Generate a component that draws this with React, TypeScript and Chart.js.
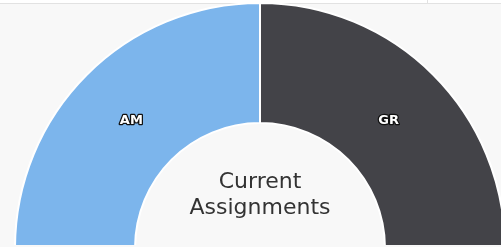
import React, { useEffect, useRef } from "react";
import { Chart, registerables } from "chart.js";

Chart.register(...registerables);

const categories = ["AM", "GR"];
const values = [1, 1];
const colors = ["#7cb5ec", "#434348"];
const centerLines = ["Current", "Assignments"];

const BG = "#f8f8f8";

const bgPlugin = {
  id: "bgPlugin",
  beforeDraw(chart: any) {
    const { ctx, width, height } = chart;
    ctx.save();
    ctx.fillStyle = BG;
    ctx.fillRect(0, 0, width, height);
    ctx.fillStyle = "#ffffff";
    ctx.fillRect(0, 0, width, 3);
    ctx.fillStyle = "#e2e2e2";
    ctx.fillRect(0, 3, width, 1);
    ctx.fillRect(427, 0, 1, 3);
    ctx.restore();
  },
};

const labelPlugin = {
  id: "labelPlugin",
  afterDatasetsDraw(chart: any) {
    const { ctx, width } = chart;
    const meta = chart.getDatasetMeta(0);
    ctx.save();
    // clip bottom strip
    ctx.fillStyle = BG;
    ctx.fillRect(0, 245, width, 5);
    ctx.font = "bold 13px 'DejaVu Sans', sans-serif";
    ctx.textAlign = "center";
    ctx.textBaseline = "middle";
    ctx.lineJoin = "round";
    meta.data.forEach((arc: any, i: number) => {
      const mid = (arc.startAngle + arc.endAngle) / 2;
      const r = (arc.innerRadius + arc.outerRadius) / 2 - 3;
      const x = arc.x + Math.cos(mid) * r;
      const y = arc.y + Math.sin(mid) * r + 1;
      ctx.lineWidth = 2.5;
      ctx.strokeStyle = "#111111";
      ctx.strokeText(categories[i], x, y);
      ctx.fillStyle = "#ffffff";
      ctx.fillText(categories[i], x, y);
    });
    const cx = meta.data[0].x;
    ctx.font = "22px 'DejaVu Sans', sans-serif";
    ctx.fillStyle = "#333333";
    ctx.textBaseline = "alphabetic";
    ctx.fillText(centerLines[0], cx, 188);
    ctx.fillText(centerLines[1], cx, 214);
    ctx.restore();
  },
};

export default function App() {
  const ref = useRef<HTMLCanvasElement>(null);
  useEffect(() => {
    document.body.style.margin = "0";
    const chart = new Chart(ref.current as HTMLCanvasElement, {
      type: "doughnut",
      data: {
        labels: categories,
        datasets: [
          {
            data: values,
            backgroundColor: colors,
            borderColor: "#ffffff",
            borderWidth: 2,
          },
        ],
      },
      options: {
        responsive: false,
        animation: false,
        rotation: -90,
        circumference: 180,
        cutout: "51%",
        radius: 245,
        layout: { padding: { top: 4, left: 19 } },
        plugins: {
          legend: { display: false },
          tooltip: { enabled: false },
        },
      },
      plugins: [bgPlugin, labelPlugin],
    });
    return () => chart.destroy();
  }, []);
  return (
    <div style={{ position: "fixed", left: 0, top: 0, width: 501, height: 247 }}>
      <canvas ref={ref} width={501} height={247} />
    </div>
  );
}
